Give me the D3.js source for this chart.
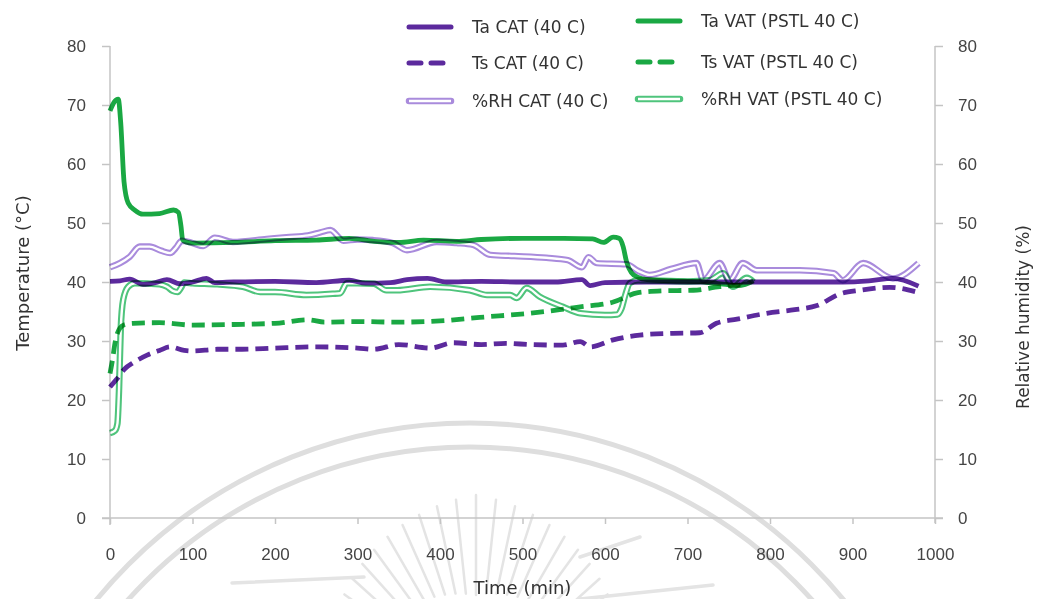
<!DOCTYPE html>
<html>
<head>
<meta charset="utf-8">
<script src="https://cdn.jsdelivr.net/npm/d3@7"></script>
<style>
  html, body { margin: 0; padding: 0; background: #fff; }
  svg { display: block; font-family: "DejaVu Sans", Verdana, sans-serif; }
</style>
</head>
<body>
<svg id="chart" width="1039" height="599"></svg>
<script>
// ---- data (time in minutes, temperature in °C, RH in %) ----
const timeTicks = [0, 100, 200, 300, 400, 500, 600, 700, 800, 900, 1000];
const valueTicks = [0, 10, 20, 30, 40, 50, 60, 70, 80];

const taCatTime = [0, 12, 24, 40, 55, 69, 85, 100, 117, 127, 150, 200, 250, 290, 310, 340, 360, 385, 408, 450, 500, 540, 572, 582, 600, 650, 700, 750, 800, 850, 888, 920, 949, 980];
const taCatValues = [40.1, 40.2, 40.5, 39.6, 39.9, 40.4, 39.7, 40, 40.6, 39.9, 40, 40.1, 39.9, 40.3, 39.8, 39.9, 40.4, 40.6, 40, 40.1, 40, 40, 40.4, 39.4, 39.9, 40, 40, 40, 40, 40, 40, 40.2, 40.6, 39.3];

const tsCatTime = [0, 8, 18, 28, 45, 60, 73, 90, 100, 130, 160, 200, 250, 300, 320, 350, 388, 416, 450, 480, 509, 549, 570, 582, 610, 642, 682, 715, 735, 760, 796, 830, 857, 885, 909, 945, 978];
const tsCatValues = [22.2, 23.5, 25.3, 26.3, 27.6, 28.4, 29, 28.4, 28.3, 28.6, 28.6, 28.8, 29, 28.8, 28.6, 29.4, 28.8, 29.7, 29.4, 29.6, 29.4, 29.3, 29.9, 29, 30.2, 31, 31.3, 31.4, 33, 33.7, 34.7, 35.3, 36, 38, 38.6, 39.1, 38.3];

const rhCatTime = [0, 12, 24, 36, 48, 62, 73, 80, 87, 100, 113, 127, 149, 190, 214, 240, 255, 267, 283, 300, 319, 343, 360, 396, 420, 440, 461, 490, 529, 555, 572, 580, 590, 626, 640, 654, 680, 711, 719, 739, 751, 767, 784, 836, 877, 888, 913, 949, 980];
const rhCatValues = [42.5, 43.2, 44.3, 46, 46, 45.3, 44.9, 45.8, 47, 46.6, 46.1, 47.5, 46.8, 47.3, 47.6, 47.9, 48.4, 48.8, 47, 47.2, 47.1, 46.6, 45.4, 46.8, 46.6, 46.3, 44.6, 44.4, 44.1, 43.7, 42.5, 44.2, 43.2, 43, 41.9, 41.2, 42.2, 43.2, 40.3, 43.2, 40.3, 43.2, 42, 42, 41.5, 40.3, 43.2, 40.6, 43.2];

const taVatTime = [0, 5, 10, 13, 17, 22, 30, 40, 60, 77, 83, 86, 88, 92, 100, 150, 200, 250, 290, 320, 350, 380, 420, 450, 500, 550, 585, 598, 610, 617, 622, 626, 632, 640, 651, 680, 720, 740, 760, 770, 780];
const taVatValues = [69, 70.5, 71, 67, 57, 53.4, 52.2, 51.5, 51.6, 52.2, 51.8, 49.5, 47.2, 46.8, 46.6, 46.7, 47, 47.1, 47.4, 46.9, 46.7, 47.1, 46.9, 47.2, 47.4, 47.4, 47.3, 46.7, 47.6, 47.4, 46, 43.5, 41.6, 40.8, 40.4, 40.2, 40, 39.7, 39.4, 39.6, 40.2];

const tsVatTime = [0, 3, 6, 9, 12, 18, 28, 60, 100, 150, 200, 240, 260, 300, 348, 400, 448, 509, 545, 570, 610, 640, 670, 707, 739, 764];
const tsVatValues = [24.5, 26.8, 29.6, 31.3, 32.2, 32.8, 33, 33.1, 32.7, 32.8, 33, 33.6, 33.2, 33.3, 33.2, 33.4, 34, 34.7, 35.3, 35.8, 36.6, 38.2, 38.5, 38.6, 39.2, 39.5];

const rhVatTime = [0, 6, 9, 11, 13, 16, 22, 30, 60, 69, 76, 82, 86, 90, 100, 130, 161, 182, 200, 238, 270, 279, 287, 300, 320, 335, 348, 388, 436, 457, 485, 493, 505, 521, 549, 570, 600, 615, 620, 625, 630, 640, 700, 727, 743, 755, 772, 780];
const rhVatValues = [14.4, 14.8, 16, 22, 32, 37, 39.2, 39.8, 39.6, 39.2, 38.5, 38.3, 39, 39.9, 39.8, 39.6, 39.2, 38.3, 38.3, 37.8, 38, 38.1, 39.8, 39.8, 39.7, 38.6, 38.6, 39.2, 38.6, 37.8, 37.8, 37.3, 39, 37.5, 35.8, 34.7, 34.4, 34.5, 35.5, 38, 39.8, 40.3, 40.1, 40.3, 41.5, 39.2, 40.7, 40];

const legendLabels = ["Ta CAT (40 C)", "Ts CAT (40 C)", "%RH CAT (40 C)", "Ta VAT (PSTL 40 C)", "Ts VAT (PSTL 40 C)", "%RH VAT (PSTL 40 C)"];

// ---- styles ----
const purple = "#5c2a9d";
const green = "#1aa843";
const purpleLight = "#a98bdc";
const greenLight = "#4fc47c";
const axisColor = "#c4c4c4";
const textColor = "#444";

const svg = d3.select("#chart");

const x = d3.scaleLinear().domain([0, 1000]).range([110, 935]);
const yLeft = d3.scaleLinear().domain([0, 80]).range([518, 46]);
const yRight = d3.scaleLinear().domain([0, 80]).range([518, 46]);

// ---- faint seal in the background ----
const seal = svg.append("g").attr("fill", "none").attr("stroke", "#dedede");
const sealCx = 470, sealCy = 906;
[483, 459].forEach(r => {
  seal.append("circle").attr("cx", sealCx).attr("cy", sealCy).attr("r", r).attr("stroke-width", 5);
});
const rayCx = 476, rayCy = 690;
d3.range(-150, -29, 6).forEach(a => {
  const rad = a * Math.PI / 180;
  const off = Math.abs(a + 90);
  const r0 = 95 + off * 0.3, r1 = 195 - off * 0.6;
  seal.append("line")
    .attr("x1", rayCx + r0 * Math.cos(rad)).attr("y1", rayCy + r0 * Math.sin(rad))
    .attr("x2", rayCx + r1 * Math.cos(rad)).attr("y2", rayCy + r1 * Math.sin(rad))
    .attr("stroke", "#e4e4e4").attr("stroke-width", 2.5).attr("stroke-linecap", "round");
});
[[232, 583, 364, 577], [580, 557, 640, 537], [580, 599, 713, 585]].forEach(s => {
  seal.append("line").attr("x1", s[0]).attr("y1", s[1]).attr("x2", s[2]).attr("y2", s[3])
    .attr("stroke", "#e4e4e4").attr("stroke-width", 3.5).attr("stroke-linecap", "round");
});

// ---- axes ----
function styleAxis(g) {
  g.select(".domain").remove();
  g.selectAll(".tick line").attr("stroke", axisColor).attr("stroke-width", 1.5);
  g.selectAll(".tick text").attr("fill", textColor).style("font-size", "17px");
}
const fmt = d3.format("d");

svg.append("g").attr("transform", "translate(110,0)")
  .call(d3.axisLeft(yLeft).tickValues(valueTicks).tickFormat(fmt).tickSize(8).tickPadding(16))
  .call(styleAxis);
svg.append("g").attr("transform", "translate(935,0)")
  .call(d3.axisRight(yRight).tickValues(valueTicks).tickFormat(fmt).tickSize(8).tickPadding(15))
  .call(styleAxis);
svg.append("g").attr("transform", "translate(0,518)")
  .call(d3.axisBottom(x).tickValues(timeTicks).tickFormat(fmt).tickSize(6).tickPadding(24))
  .call(styleAxis);

const axisLines = svg.append("g").attr("stroke", axisColor).attr("stroke-width", 1.5);
axisLines.append("line").attr("x1", x(0)).attr("x2", x(0)).attr("y1", yLeft(80)).attr("y2", yLeft(0) + 7);
axisLines.append("line").attr("x1", x(1000)).attr("x2", x(1000)).attr("y1", yLeft(80)).attr("y2", yLeft(0) + 5);
axisLines.append("line").attr("x1", x(0) - 8).attr("x2", x(1000) + 8).attr("y1", yLeft(0)).attr("y2", yLeft(0));

// axis titles
svg.append("text").attr("transform", "translate(22,273) rotate(-90)")
  .attr("text-anchor", "middle").attr("dominant-baseline", "central")
  .attr("fill", "#333").style("font-size", "18px").text("Temperature (°C)");
svg.append("text").attr("transform", "translate(1023,317) rotate(-90)")
  .attr("text-anchor", "middle").attr("dominant-baseline", "central")
  .attr("fill", "#333").style("font-size", "17px").text("Relative humidity (%)");
svg.append("text").attr("x", (x(0) + x(1000)) / 2).attr("y", 587)
  .attr("text-anchor", "middle").attr("dominant-baseline", "central")
  .attr("fill", "#333").style("font-size", "18px").text("Time (min)");

// ---- series ----
function pairs(ts, vs) { return ts.map((t, i) => [t, vs[i]]); }
const lineL = d3.line().x(d => x(d[0])).y(d => yLeft(d[1])).curve(d3.curveMonotoneX);
const lineR = d3.line().x(d => x(d[0])).y(d => yRight(d[1])).curve(d3.curveMonotoneX);

const plot = svg.append("g").attr("fill", "none").attr("stroke-linejoin", "round");

function doubleLine(parent, data, gen, color) {
  const g = parent.append("g").style("mix-blend-mode", "multiply").style("isolation", "isolate");
  g.append("path").datum(data).attr("d", gen).attr("stroke", color).attr("stroke-width", 6.5);
  g.append("path").datum(data).attr("d", gen).attr("stroke", "#fff").attr("stroke-width", 2.4);
}
function solidLine(parent, data, gen, color, dash) {
  parent.append("path").datum(data).attr("d", gen)
    .attr("stroke", color).attr("stroke-width", 4.8)
    .attr("stroke-dasharray", dash || null)
    .style("mix-blend-mode", "multiply");
}

doubleLine(plot, pairs(rhVatTime, rhVatValues), lineR, greenLight);
solidLine(plot, pairs(tsVatTime, tsVatValues), lineL, green, "13,7");
solidLine(plot, pairs(taVatTime, taVatValues), lineL, green);
solidLine(plot, pairs(tsCatTime, tsCatValues), lineL, purple, "13,7");
solidLine(plot, pairs(taCatTime, taCatValues), lineL, purple);
doubleLine(plot, pairs(rhCatTime, rhCatValues), lineR, purpleLight);

// ---- legend ----
const legendItems = [
  { label: legendLabels[0], color: purple, kind: "solid", x: 408, y: 27 },
  { label: legendLabels[1], color: purple, kind: "dash", x: 408, y: 63 },
  { label: legendLabels[2], color: purpleLight, kind: "double", x: 408, y: 101 },
  { label: legendLabels[3], color: green, kind: "solid", x: 637, y: 21 },
  { label: legendLabels[4], color: green, kind: "dash", x: 637, y: 62 },
  { label: legendLabels[5], color: greenLight, kind: "double", x: 637, y: 99 }
];
const legend = svg.append("g");
legendItems.forEach(it => {
  const g = legend.append("g").attr("transform", `translate(${it.x},${it.y})`);
  if (it.kind === "double") {
    g.append("line").attr("x1", 1).attr("x2", 43).attr("stroke", it.color).attr("stroke-width", 6.5).attr("stroke-linecap", "round");
    g.append("line").attr("x1", 1).attr("x2", 43).attr("stroke", "#fff").attr("stroke-width", 2.4);
  } else {
    g.append("line").attr("x1", 1).attr("x2", 43).attr("stroke", it.color).attr("stroke-width", 5)
      .attr("stroke-linecap", "round")
      .attr("stroke-dasharray", it.kind === "dash" ? "12,10" : null);
  }
  g.append("text").attr("x", 64).attr("y", 0).attr("dominant-baseline", "central")
    .attr("fill", "#333").style("font-size", "17px").text(it.label);
});
</script>
</body>
</html>
